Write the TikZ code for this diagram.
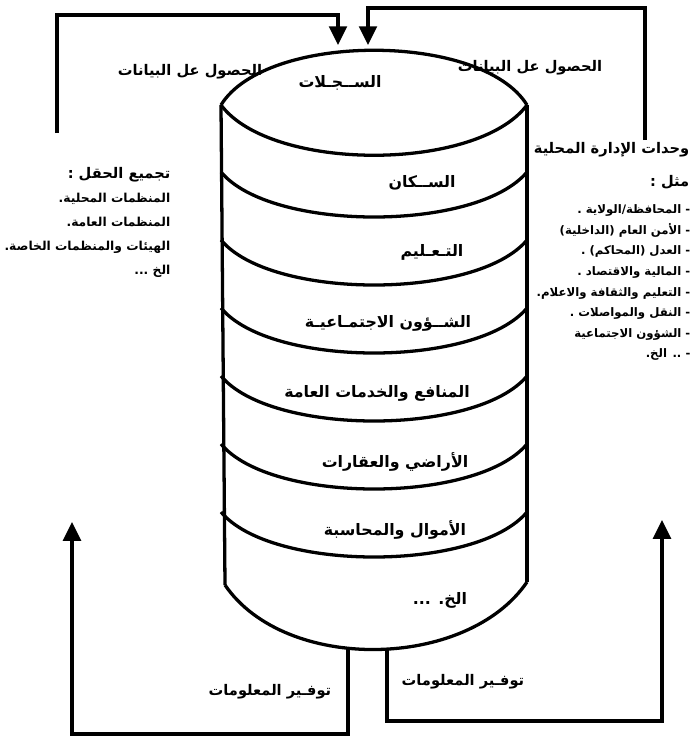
\documentclass[tikz,border=0pt]{standalone}
\usepackage{fontspec}
\usetikzlibrary{arrows.meta}
\newfontfamily\arabicfont[Script=Arabic, BoldFont={DejaVu Sans Bold}]{DejaVu Sans}
\TeXXeTstate=1
\newcommand{\ar}[1]{\beginR #1\endR}

\begin{document}
\begin{tikzpicture}[x=0.03cm, y=-0.03cm, line width=2.8pt,
    lbl/.style={font=\arabicfont\bfseries\fontsize{13.5}{16}\selectfont, inner sep=1pt},
    tag/.style={font=\arabicfont\bfseries\fontsize{12.5}{15}\selectfont, inner sep=1pt},
    lst/.style={font=\arabicfont\bfseries\fontsize{10}{17.6}\selectfont, align=right, inner sep=0pt},
    flow/.style={-{Triangle[length=16pt,width=15pt]}, line width=2.8pt}]
    \useasboundingbox (0,0) rectangle (697,747);

    % cylinder
    \draw (221,105) .. controls +(45,-73) and +(-45,-73) .. (527,105);
    \draw (221,105) .. controls +(50,67) and +(-50,67) .. (527,105);
    \draw (221,105) -- (225,585);
    \draw (527,105) -- (527,582);
    \foreach \y in {172,240,308,376,444,512}
        \draw (221,\y) .. controls +(50,60) and +(-50,60) .. (527,\y);
    \draw (225,585) .. controls +(60,88) and +(-60,88) .. (527,582);

    \node[lbl] at (340, 83)  (rec)  {\ar{الســجـلات}};
    \node[lbl] at (422, 183) (pop)  {\ar{الســكان}};
    \node[lbl] at (432, 252) (edu)  {\ar{التـعـليم}};
    \node[lbl] at (388, 323) (soc)  {\ar{الشــؤون الاجتمـاعيـة}};
    \node[lbl] at (377, 393) (util) {\ar{المنافع والخدمات العامة}};
    \node[lbl] at (395, 462) (land) {\ar{الأراضي والعقارات}};
    \node[lbl] at (395, 530) (fin)  {\ar{الأموال والمحاسبة}};
    \node[lbl] at (440, 600) (etc)  {\ar{الخ. ...}};

    % frame labels
    \node[tag] at (190, 72)  (getL)  {\ar{الحصول عل البيانات}};
    \node[tag] at (530, 68)  (getR)  {\ar{الحصول عل البيانات}};
    \node[tag] at (270, 692) (giveL) {\ar{توفـير المعلومات}};
    \node[tag] at (463, 682) (giveR) {\ar{توفـير المعلومات}};

    \node[lst, anchor=north east, font=\arabicfont\bfseries\fontsize{10.5}{20.4}\selectfont]
        at (172, 166) (srcs) {%
        \ar{\fontsize{12.5}{15}\selectfont تجميع الحقل :}\\
        \ar{المنظمات المحلية.}\\
        \ar{المنظمات العامة.}\\
        \ar{الهيئات والمنظمات الخاصة.}\\
        \ar{الخ ...}};

    \node[tag, anchor=east] at (692, 150) (units) {\ar{وحدات الإدارة المحلية}};
    \node[tag, anchor=east] at (692, 182) (ex)    {\ar{مثل :}};
    \node[lst, anchor=north east] at (692, 203) (depts) {%
        \ar{- المحافظة/الولاية .}\\
        \ar{- الأمن العام (الداخلية)}\\
        \ar{- العدل (المحاكم) .}\\
        \ar{- المالية والاقتصاد .}\\
        \ar{- التعليم والثقافة والاعلام.}\\
        \ar{- النقل والمواصلات .}\\
        \ar{- الشؤون الاجتماعية}\\
        \ar{- .. الخ.}};

    % connectors
    \coordinate (inL)   at (338, 45);
    \coordinate (inR)   at (368, 45);
    \coordinate (fromL) at (57, 133);
    \coordinate (fromR) at (645, 140);
    \coordinate (stemL) at (348, 648);
    \coordinate (stemR) at (387, 648);
    \coordinate (outL)  at (72, 522);
    \coordinate (outR)  at (662, 520);

    \draw[flow] (fromL) |- (338, 15) -- (inL);
    \draw[flow] (fromR) |- (368, 8) -- (inR);
    \draw[flow] (stemL) -- (348, 734) -| (outL);
    \draw[flow] (stemR) -- (387, 721) -| (outR);
\end{tikzpicture}
\end{document}
